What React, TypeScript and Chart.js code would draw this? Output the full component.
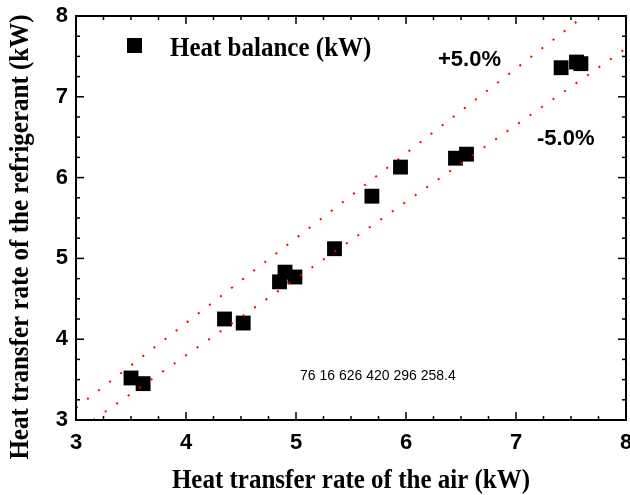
import React, { useEffect, useRef } from "react";
import { Chart, registerables } from "chart.js";

Chart.register(...registerables);

// ---- data ----
const airRate = [3.5, 3.61, 4.35, 4.52, 4.85, 4.9, 4.99, 5.35, 5.69, 5.95, 6.45, 6.55, 7.41, 7.55, 7.59];
const refrigerantRate = [3.52, 3.45, 4.25, 4.2, 4.71, 4.83, 4.77, 5.12, 5.77, 6.13, 6.24, 6.29, 7.36, 7.43, 7.41];
const plusLineX = [3, 7.619];
const plusLineY = [3.15, 8];
const minusLineX = [3.158, 8];
const minusLineY = [3, 7.6];
const axisMin = 3;
const axisMax = 8;
const majorStep = 1;
const minorStep = 0.25;
const seriesLabel = "Heat balance (kW)";
const xTitle = "Heat transfer rate of the air (kW)";
const yTitle = "Heat transfer rate of the refrigerant (kW)";
const plusLabel = "+5.0%";
const minusLabel = "-5.0%";

const SERIF = "'Liberation Serif', 'Times New Roman', serif";
const SANS = "'Liberation Sans', Arial, sans-serif";

const textPlugin = {
  id: "textPlugin",
  afterDraw(chart: any) {
    const ctx: CanvasRenderingContext2D = chart.ctx;
    const { left, right, top, bottom } = chart.chartArea;
    const xs = chart.scales.x;
    const ys = chart.scales.y;
    ctx.save();
    ctx.fillStyle = "#000";
    ctx.fillRect(left - 1, top - 1, right - left + 2, 2);
    ctx.fillRect(left - 1, bottom - 1, right - left + 2, 2);
    ctx.fillRect(left - 1, top - 1, 2, bottom - top + 2);
    ctx.fillRect(right - 1, top - 1, 2, bottom - top + 2);
    const n = Math.round((axisMax - axisMin) / minorStep);
    for (let i = 0; i <= n; i++) {
      const v = axisMin + i * minorStep;
      const major = Math.abs(v / majorStep - Math.round(v / majorStep)) < 1e-6;
      const len = major ? 8 : 4;
      const px = xs.getPixelForValue(v);
      const py = ys.getPixelForValue(v);
      ctx.fillRect(px - 0.75, bottom - len, 1.5, len);
      ctx.fillRect(px - 0.75, top, 1.5, len);
      ctx.fillRect(left, py - 0.75, len, 1.5);
      ctx.fillRect(right - len, py - 0.75, len, 1.5);
    }
    // debug
    ctx.font = "14px sans-serif";
    ctx.fillText(`${left} ${top} ${right} ${bottom} ${xs.getPixelForValue(5)} ${ys.getPixelForValue(5)}`, 300, 380);
    // legend
    ctx.fillRect(127, 38, 15, 15);
    ctx.save();
    ctx.font = `bold 25px ${SERIF}`;
    ctx.textAlign = "left";
    ctx.textBaseline = "alphabetic";
    ctx.translate(170, 56);
    ctx.scale(1, 1.08);
    ctx.fillText(seriesLabel, 0, 0);
    ctx.restore();
    ctx.font = `bold 22px ${SANS}`;
    ctx.textAlign = "left";
    ctx.textBaseline = "alphabetic";
    ctx.fillText(plusLabel, 438, 66);
    ctx.fillText(minusLabel, 537, 145);
    ctx.save();
    ctx.font = `bold 25px ${SERIF}`;
    ctx.textAlign = "center";
    ctx.translate((left + right) / 2, 488);
    ctx.scale(1, 1.08);
    ctx.fillText(xTitle, 0, 0);
    ctx.restore();
    ctx.save();
    ctx.font = `bold 25px ${SERIF}`;
    ctx.textAlign = "center";
    ctx.translate(28, 237);
    ctx.rotate(-Math.PI / 2);
    ctx.scale(1, 1.08);
    ctx.fillText(yTitle, 0, 0);
    ctx.restore();
    ctx.restore();
  },
};

export default function App() {
  const ref = useRef<HTMLCanvasElement>(null);
  useEffect(() => {
    if (!ref.current) return;
    const chart = new Chart(ref.current, {
      type: "scatter",
      data: {
        datasets: [
          {
            label: plusLabel,
            data: plusLineX.map((x, i) => ({ x, y: plusLineY[i] })),
            showLine: true,
            borderColor: "#ff0000",
            borderWidth: 2,
            borderDash: [2, 12],
            pointRadius: 0,
            order: 0,
          },
          {
            label: minusLabel,
            data: minusLineX.map((x, i) => ({ x, y: minusLineY[i] })),
            showLine: true,
            borderColor: "#ff0000",
            borderWidth: 2,
            borderDash: [2, 12],
            pointRadius: 0,
            order: 0,
          },
          {
            label: seriesLabel,
            data: airRate.map((x, i) => ({ x, y: refrigerantRate[i] })),
            pointStyle: "rect",
            pointRadius: 10.5,
            backgroundColor: "#000",
            borderColor: "#000",
            borderWidth: 0,
            order: 1,
          },
        ],
      },
      options: {
        animation: false,
        responsive: false,
        devicePixelRatio: 1,
        layout: { autoPadding: false, padding: { top: 16, right: 4, left: 0, bottom: 0 } },
        plugins: { legend: { display: false }, tooltip: { enabled: false } },
        scales: {
          x: {
            type: "linear",
            min: axisMin,
            max: axisMax,
            grid: { display: false, drawTicks: false },
            border: { display: false },
            ticks: { stepSize: majorStep, padding: 10, color: "#000", font: { family: SANS, size: 22, weight: "bold" } },
            afterFit(scale: any) { scale.height = 75; scale.paddingLeft = 0; scale.paddingRight = 0; },
          },
          y: {
            type: "linear",
            min: axisMin,
            max: axisMax,
            grid: { display: false, drawTicks: false },
            border: { display: false },
            ticks: { stepSize: majorStep, padding: 8, color: "#000", font: { family: SANS, size: 22, weight: "bold" } },
            afterFit(scale: any) { scale.width = 76; scale.paddingTop = 0; scale.paddingBottom = 0; },
          },
        },
      },
      plugins: [textPlugin],
    });
    return () => chart.destroy();
  }, []);
  return (
    <div style={{ position: "absolute", left: 0, top: 0, width: 630, height: 495, background: "#fff" }}>
      <canvas ref={ref} width={630} height={495} />
    </div>
  );
}
